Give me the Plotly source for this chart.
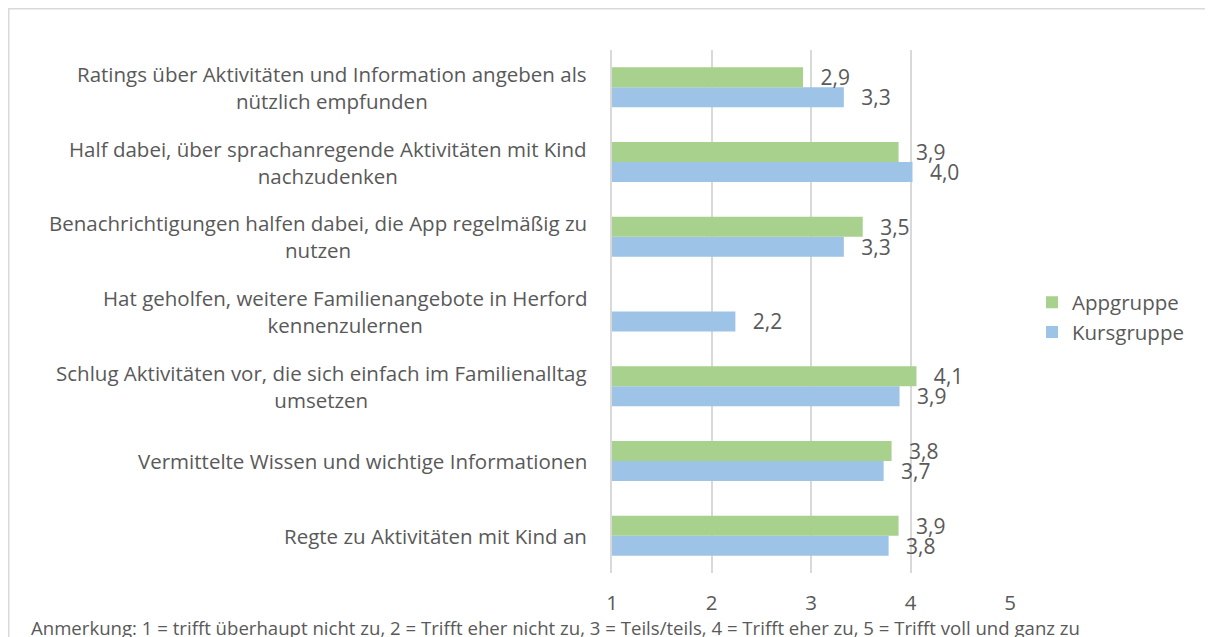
import plotly.graph_objects as go

categories = [
    "Ratings über Aktivitäten und Information angeben als<br>nützlich empfunden",
    "Half dabei, über sprachanregende Aktivitäten mit Kind<br>nachzudenken",
    "Benachrichtigungen halfen dabei, die App regelmäßig zu<br>nutzen",
    "Hat geholfen, weitere Familienangebote in Herford<br>kennenzulernen",
    "Schlug Aktivitäten vor, die sich einfach im Familienalltag<br>umsetzen",
    "Vermittelte Wissen und wichtige Informationen",
    "Regte zu Aktivitäten mit Kind an",
]
app_values = [2.92, 3.88, 3.52, None, 4.06, 3.81, 3.88]
kurs_values = [3.33, 4.02, 3.33, 2.24, 3.89, 3.73, 3.78]
x_ticks = [1, 2, 3, 4, 5]
note = ("Anmerkung: 1 = trifft überhaupt nicht zu, 2 = Trifft eher nicht zu, "
        "3 = Teils/teils, 4 = Trifft eher zu, 5 = Trifft voll und ganz zu")

# page has an 8px body margin, so figure coordinates are page - 8
W, H = 1205, 629
L, R, T, B = 604, 1002, 42, 565
FONT = "Open Sans"
GRAY = "#595959"
GRID = "#D9D9D9"


def fmt(v):
    return "" if v is None else "\u00a0\u00a0\u2009" + f"{v:.1f}".replace(".", ",")


fig = go.Figure()
fig.add_trace(go.Bar(
    name="Kursgruppe", y=categories, x=kurs_values, orientation="h",
    marker=dict(color="#9DC3E6", line=dict(width=0)),
    text=[fmt(v) for v in kurs_values], textposition="outside",
    constraintext="none", textfont=dict(family=FONT, size=21, color=GRAY),
))
fig.add_trace(go.Bar(
    name="Appgruppe", y=categories, x=app_values, orientation="h",
    marker=dict(color="#A9D18E", line=dict(width=0)),
    text=[fmt(v) for v in app_values], textposition="outside",
    constraintext="none", textfont=dict(family=FONT, size=21, color=GRAY),
))


def px_to_paper_x(px):
    return (px - L) / (R - L)


def px_to_paper_y(py):
    return (B - py) / (B - T)


annotations = []
for c in categories:
    annotations.append(dict(
        x=px_to_paper_x(581), xref="paper", y=c, yref="y",
        text=c, showarrow=False, xanchor="right", yanchor="middle",
        align="center", font=dict(family=FONT, size=20.5, color=GRAY),
    ))
annotations.append(dict(
    x=px_to_paper_x(21), xref="paper", y=px_to_paper_y(619), yref="paper",
    text=note, showarrow=False, xanchor="left", yanchor="middle",
    font=dict(family=FONT, size=18.6, color=GRAY),
))

shapes = [
    dict(type="line", xref="paper", yref="paper",
         x0=px_to_paper_x(0), x1=px_to_paper_x(W),
         y0=px_to_paper_y(0.75), y1=px_to_paper_y(0.75),
         line=dict(color=GRID, width=1.5)),
    dict(type="line", xref="paper", yref="paper",
         x0=px_to_paper_x(0.75), x1=px_to_paper_x(0.75),
         y0=px_to_paper_y(0), y1=px_to_paper_y(H),
         line=dict(color=GRID, width=1.5)),
]

fig.update_layout(
    width=W, height=H,
    margin=dict(l=L, r=W - R, t=T, b=H - B, pad=0),
    paper_bgcolor="white", plot_bgcolor="white",
    barmode="group", bargap=0.465, bargroupgap=0,
    font=dict(family=FONT, color=GRAY),
    showlegend=True,
    legend=dict(
        x=px_to_paper_x(1024), y=px_to_paper_y(309.5),
        xanchor="left", yanchor="middle",
        traceorder="reversed", font=dict(family=FONT, size=20.5, color=GRAY),
        bgcolor="rgba(0,0,0,0)",
    ),
    xaxis=dict(
        range=[1, 5], tickvals=x_ticks, ticktext=[str(t) for t in x_ticks],
        showgrid=True, gridcolor=GRID, gridwidth=2,
        zeroline=False, showline=False, ticks="",
        tickfont=dict(family=FONT, size=20.5, color=GRAY),
        ticklabelstandoff=15, fixedrange=True,
    ),
    yaxis=dict(
        categoryorder="array", categoryarray=categories[::-1],
        showticklabels=False, ticks="", showgrid=False, zeroline=False,
        showline=True, linecolor=GRID, linewidth=2, fixedrange=True,
    ),
    annotations=annotations,
    shapes=shapes,
)

fig.write_html("out.html")
